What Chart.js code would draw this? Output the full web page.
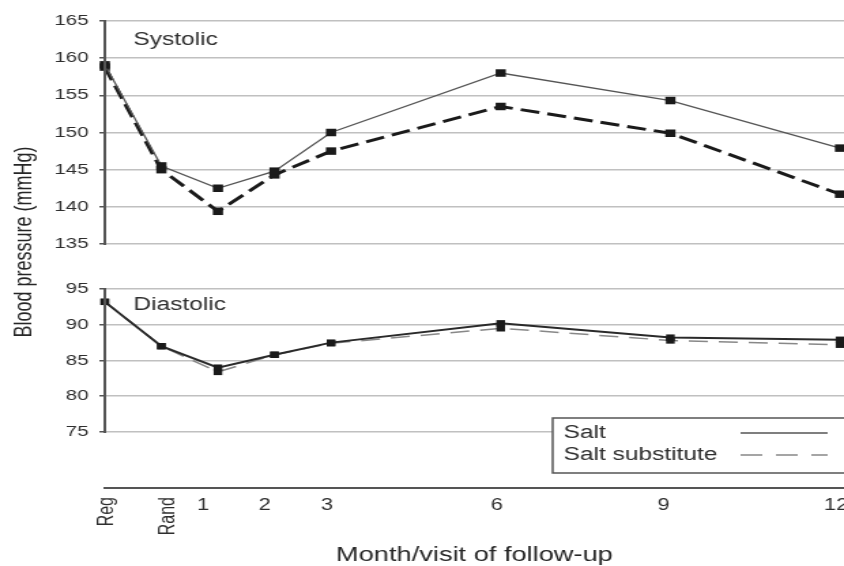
<!DOCTYPE html>
<html>
<head>
<meta charset="utf-8">
<title>Blood pressure during follow-up</title>
<script src="https://cdn.jsdelivr.net/npm/chart.js@4.4.1/dist/chart.umd.min.js"></script>
<style>
    html, body { margin: 0; padding: 0; background: #fff; }
</style>
</head>
<body>
<!-- the source figure is stretched sideways, so the chart is drawn narrow and widened by css -->
<canvas id="bp-chart" width="620" height="566" style="display:block;width:844px;height:566px"></canvas>
<script>
    var visitMonths = [-1, 0, 1, 2, 3, 6, 9, 12];
    var visitLabels = ['Reg', 'Rand', '1', '2', '3', '6', '9', '12'];
    var labelMonths = [-0.96, 0.13, 0.74, 1.83, 2.93, 5.93, 8.88, 11.93];

    var systolicSalt = [159.1, 145.5, 142.5, 144.8, 150.0, 158.0, 154.3, 147.9];
    var systolicSubstitute = [158.8, 145.0, 139.4, 144.3, 147.5, 153.5, 149.9, 141.7];
    var diastolicSalt = [93.2, 87.0, 84.0, 85.8, 87.5, 90.2, 88.2, 87.9];
    var diastolicSubstitute = [93.2, 87.0, 83.4, 85.8, 87.4, 89.5, 87.8, 87.2];

    var systolicTicks = [135, 140, 145, 150, 155, 160, 165];
    var diastolicTicks = [75, 80, 85, 90, 95];

    var FONT = "'Liberation Sans', Arial, sans-serif";
    var TEXT = '#2e2e2e';

    function toPoints(values) {
        return values.map(function (v, i) {
            return {x: visitMonths[i], y: v};
        });
    }

    function fixedTicks(list) {
        return function (scale) {
            scale.ticks = list.map(function (v) { return {value: v}; });
        };
    }

    function yAxis(min, max, weight, list) {
        return {
            type: 'linear',
            position: 'left',
            stack: 'bp',
            stackWeight: weight,
            min: min,
            max: max,
            afterBuildTicks: fixedTicks(list),
            afterFit: function (scale) { scale.width = 77; },
            border: {display: false},
            grid: {
                color: '#c0c0c0',
                lineWidth: 1.5,
                tickColor: '#555',
                tickLength: 4,
                tickWidth: 1.5
            },
            ticks: {
                padding: 8,
                color: TEXT,
                font: {family: FONT, size: 15}
            }
        };
    }

    var decorPlugin = {
        id: 'bpDecor',
        afterDraw: function (chart) {
            var ctx = chart.ctx;
            var area = chart.chartArea;
            var xs = chart.scales.x;
            var sys = chart.scales.ySys;
            var dia = chart.scales.yDia;

            ctx.save();

            // y axis line only over the tick range of each panel
            ctx.strokeStyle = '#555';
            ctx.lineWidth = 2;
            [[sys, systolicTicks], [dia, diastolicTicks]].forEach(function (p) {
                ctx.beginPath();
                ctx.moveTo(area.left, p[0].getPixelForValue(p[1][p[1].length - 1]) - 1);
                ctx.lineTo(area.left, p[0].getPixelForValue(p[1][0]) + 1);
                ctx.stroke();
            });

            // panel names
            ctx.fillStyle = TEXT;
            ctx.font = '18px ' + FONT;
            ctx.textAlign = 'left';
            ctx.textBaseline = 'middle';
            ctx.fillText('Systolic', 98, 40);
            ctx.fillText('Diastolic', 98, 305);

            // x tick labels, the first two turned upright
            ctx.font = '16px ' + FONT;
            visitLabels.forEach(function (lab, i) {
                var px = xs.getPixelForValue(labelMonths[i]);
                if (i < 2) {
                    ctx.save();
                    ctx.translate(px, area.bottom + 9);
                    ctx.rotate(-Math.PI / 2);
                    ctx.textAlign = 'right';
                    ctx.fillText(lab, 0, 0);
                    ctx.restore();
                } else {
                    ctx.textAlign = 'center';
                    ctx.fillText(lab, px, area.bottom + 18);
                }
            });

            // axis titles
            ctx.fillStyle = '#262626';
            ctx.font = '20px ' + FONT;
            ctx.textAlign = 'center';
            ctx.fillText('Month/visit of follow-up', (area.left + area.right) / 2, 555);

            ctx.save();
            ctx.font = '18px ' + FONT;
            ctx.translate(18, 242);
            ctx.rotate(-Math.PI / 2);
            ctx.fillText('Blood pressure (mmHg)', 0, 0);
            ctx.restore();

            // legend box
            var lx = 406, ly = 418;
            ctx.fillStyle = '#fff';
            ctx.fillRect(lx, ly, 230, 55);
            ctx.strokeStyle = '#555';
            ctx.lineWidth = 1.5;
            ctx.strokeRect(lx, ly, 230, 55);

            ctx.fillStyle = TEXT;
            ctx.font = '18px ' + FONT;
            ctx.textAlign = 'left';
            ctx.fillText('Salt', lx + 8, ly + 15);
            ctx.fillText('Salt substitute', lx + 8, ly + 37);

            ctx.lineWidth = 1.5;
            ctx.strokeStyle = '#555';
            ctx.beginPath();
            ctx.moveTo(544, ly + 15);
            ctx.lineTo(608, ly + 15);
            ctx.stroke();

            ctx.strokeStyle = '#888';
            ctx.setLineDash([16, 10]);
            ctx.beginPath();
            ctx.moveTo(544, ly + 37);
            ctx.lineTo(608, ly + 37);
            ctx.stroke();

            ctx.restore();
        }
    };

    var ctx = document.getElementById('bp-chart').getContext('2d');

    new Chart(ctx, {
        type: 'line',
        data: {
            datasets: [{
                label: 'Salt',
                data: toPoints(systolicSalt),
                yAxisID: 'ySys',
                borderColor: '#555',
                borderWidth: 1.3,
                pointStyle: 'rect',
                pointRadius: 5.3,
                pointBackgroundColor: '#1a1a1a',
                pointBorderWidth: 0,
                clip: false
            }, {
                label: 'Salt substitute',
                data: toPoints(systolicSubstitute),
                yAxisID: 'ySys',
                borderColor: '#1a1a1a',
                borderWidth: 3,
                borderDash: [14, 6],
                pointStyle: 'rect',
                pointRadius: 5.3,
                pointBackgroundColor: '#1a1a1a',
                pointBorderWidth: 0,
                clip: false
            }, {
                label: 'Salt',
                data: toPoints(diastolicSalt),
                yAxisID: 'yDia',
                borderColor: '#2a2a2a',
                borderWidth: 2,
                pointStyle: 'rect',
                pointRadius: 4.5,
                pointBackgroundColor: '#1a1a1a',
                pointBorderWidth: 0,
                clip: false
            }, {
                label: 'Salt substitute',
                data: toPoints(diastolicSubstitute),
                yAxisID: 'yDia',
                borderColor: '#888',
                borderWidth: 1.5,
                borderDash: [14, 8],
                pointStyle: 'rect',
                pointRadius: 4.5,
                pointBackgroundColor: '#1a1a1a',
                pointBorderWidth: 0,
                clip: false
            }]
        },
        options: {
            responsive: false,
            animation: false,
            layout: {autoPadding: false, padding: {top: 21, right: 0, bottom: 0, left: 0}},
            plugins: {
                legend: {display: false},
                tooltip: {enabled: false}
            },
            elements: {line: {tension: 0}},
            scales: {
                x: {
                    type: 'linear',
                    min: -1,
                    max: 12.07,
                    afterFit: function (scale) { scale.height = 78; },
                    grid: {display: false},
                    ticks: {display: false},
                    border: {display: true, color: '#555', width: 2}
                },
                // stacked boxes fill from the bottom, so the lower panel comes first
                yDia: yAxis(67.17, 101.29, 244, diastolicTicks),
                ySys: yAxis(135, 165, 223, systolicTicks)
            }
        },
        plugins: [decorPlugin]
    });
</script>
</body>
</html>
